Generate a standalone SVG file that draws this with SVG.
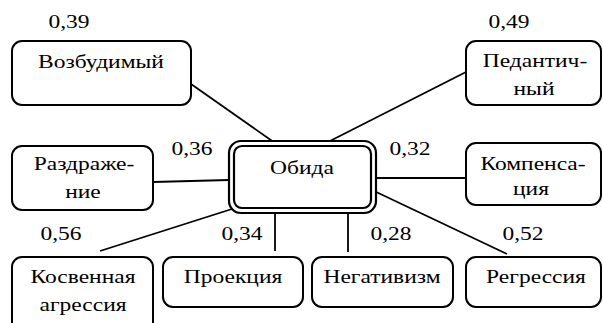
<svg xmlns="http://www.w3.org/2000/svg" width="603" height="323" viewBox="0 0 603 323">
<rect width="603" height="323" fill="#fff"/>
<g id="connectors" stroke="#000" stroke-width="1.8" fill="none">
<line x1="191" y1="84" x2="275" y2="143"/>
<line x1="466" y1="72" x2="328" y2="142"/>
<line x1="153" y1="182" x2="229" y2="180"/>
<line x1="376" y1="178" x2="466" y2="178"/>
<line x1="232" y1="209" x2="100" y2="251"/>
<line x1="275" y1="212" x2="275" y2="251"/>
<line x1="348" y1="212" x2="348" y2="252"/>
<line x1="372" y1="190" x2="507" y2="254"/>
</g>
<g id="labels">
<text transform="translate(69,28) scale(1,0.81)" font-family="Liberation Serif" font-size="23.5" text-anchor="middle">0,39</text>
<text transform="translate(509,28) scale(1,0.81)" font-family="Liberation Serif" font-size="23.5" text-anchor="middle">0,49</text>
<text transform="translate(192,155) scale(1,0.81)" font-family="Liberation Serif" font-size="23.5" text-anchor="middle">0,36</text>
<text transform="translate(410,155) scale(1,0.81)" font-family="Liberation Serif" font-size="23.5" text-anchor="middle">0,32</text>
<text transform="translate(61,240) scale(1,0.81)" font-family="Liberation Serif" font-size="23.5" text-anchor="middle">0,56</text>
<text transform="translate(242,240) scale(1,0.81)" font-family="Liberation Serif" font-size="23.5" text-anchor="middle">0,34</text>
<text transform="translate(391,240) scale(1,0.81)" font-family="Liberation Serif" font-size="23.5" text-anchor="middle">0,28</text>
<text transform="translate(523,240) scale(1,0.81)" font-family="Liberation Serif" font-size="23.5" text-anchor="middle">0,52</text>
</g>
<g id="n-vozbud">
<rect x="12" y="41" width="179" height="64" rx="10" fill="#fff" stroke="#000" stroke-width="2"/>
<text transform="translate(101,68) scale(1,0.81)" font-family="Liberation Serif" font-size="23.5" text-anchor="middle">Возбудимый</text>
</g>
<g id="n-pedant">
<rect x="466" y="41" width="135" height="64" rx="10" fill="#fff" stroke="#000" stroke-width="2"/>
<text transform="translate(535,67) scale(1,0.81)" font-family="Liberation Serif" font-size="23.5" text-anchor="middle">Педантич-</text>
<text transform="translate(534,95) scale(1,0.81)" font-family="Liberation Serif" font-size="23.5" text-anchor="middle">ный</text>
</g>
<g id="n-obida">
<rect x="229" y="141" width="147" height="72" rx="12" fill="#fff" stroke="#000" stroke-width="2.2"/>
<rect x="234" y="146" width="137" height="62" rx="8" fill="none" stroke="#000" stroke-width="2.2"/>
<text transform="translate(302,174) scale(1,0.81)" font-family="Liberation Serif" font-size="23.5" text-anchor="middle">Обида</text>
</g>
<g id="n-razdr">
<rect x="12" y="146" width="141" height="64" rx="10" fill="#fff" stroke="#000" stroke-width="2"/>
<text transform="translate(84,170) scale(1,0.81)" font-family="Liberation Serif" font-size="23.5" text-anchor="middle">Раздраже-</text>
<text transform="translate(83,198) scale(1,0.81)" font-family="Liberation Serif" font-size="23.5" text-anchor="middle">ние</text>
</g>
<g id="n-komp">
<rect x="466" y="143" width="135" height="62" rx="10" fill="#fff" stroke="#000" stroke-width="2"/>
<text transform="translate(533,170) scale(1,0.81)" font-family="Liberation Serif" font-size="23.5" text-anchor="middle">Компенса-</text>
<text transform="translate(531,195) scale(1,0.81)" font-family="Liberation Serif" font-size="23.5" text-anchor="middle">ция</text>
</g>
<g id="n-kosv">
<rect x="12" y="257" width="141" height="80" rx="10" fill="#fff" stroke="#000" stroke-width="2"/>
<text transform="translate(83,283) scale(1,0.81)" font-family="Liberation Serif" font-size="23.5" text-anchor="middle">Косвенная</text>
<text transform="translate(83,311) scale(1,0.81)" font-family="Liberation Serif" font-size="23.5" text-anchor="middle">агрессия</text>
</g>
<g id="n-proek">
<rect x="163" y="257" width="140" height="50" rx="10" fill="#fff" stroke="#000" stroke-width="2"/>
<text transform="translate(233,283) scale(1,0.81)" font-family="Liberation Serif" font-size="23.5" text-anchor="middle">Проекция</text>
</g>
<g id="n-negat">
<rect x="312" y="257" width="141" height="50" rx="10" fill="#fff" stroke="#000" stroke-width="2"/>
<text transform="translate(382,283) scale(1,0.81)" font-family="Liberation Serif" font-size="23.5" text-anchor="middle">Негативизм</text>
</g>
<g id="n-regr">
<rect x="466" y="257" width="135" height="50" rx="10" fill="#fff" stroke="#000" stroke-width="2"/>
<text transform="translate(536,283) scale(1,0.81)" font-family="Liberation Serif" font-size="23.5" text-anchor="middle">Регрессия</text>
</g>
</svg>
